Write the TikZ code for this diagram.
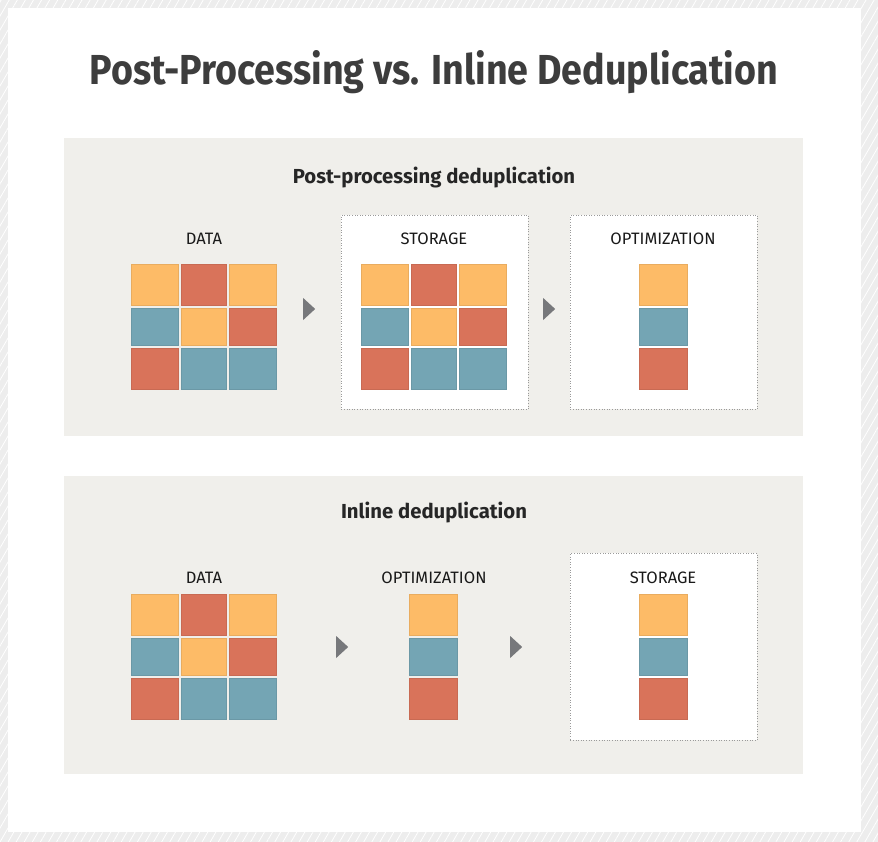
\documentclass[tikz,border=0pt]{standalone}
\usepackage{fontspec}
\setmainfont{Fira Sans}
\usetikzlibrary{shapes.geometric, patterns.meta, positioning}
\definecolor{panelgray}{HTML}{F0EFEB}
\definecolor{hatchgray}{HTML}{EDEDED}
\definecolor{cellorange}{HTML}{FDBB67}
\definecolor{cellred}{HTML}{D9735A}
\definecolor{cellteal}{HTML}{74A5B4}
\definecolor{arrowgray}{HTML}{77787B}
\definecolor{titlegray}{HTML}{3D3D3D}
\definecolor{dotgray}{HTML}{9A9A9A}

% 3x3 block of data: #1 name, #2 left, #3 top
\newcommand{\datagrid}[3]{%
  \foreach \cx/\cw/\cy/\ch/\col [count=\i] in {0/47/0/41/cellorange, 50/45/0/41/cellred, 98/47/0/41/cellorange,
      0/47/44/37/cellteal, 50/45/44/37/cellorange, 98/47/44/37/cellred,
      0/47/84/41/cellred, 50/45/84/41/cellteal, 98/47/84/41/cellteal}
    \node[cell=\col, minimum width=\cw, minimum height=\ch] (#1-\i) at (#2+\cx, #3+\cy) {};
}
% single column after dedup: #1 name, #2 left, #3 top
\newcommand{\dedupcol}[3]{%
  \foreach \cy/\ch/\col [count=\i] in {0/41/cellorange, 44/37/cellteal, 84/41/cellred}
    \node[cell=\col, minimum width=48, minimum height=\ch] (#1-\i) at (#2, #3+\cy) {};
}

\begin{document}
\begin{tikzpicture}[
    x=1pt, y=-1pt,
    panel/.style={fill=panelgray, anchor=north west, inner sep=0pt, minimum width=739, minimum height=298},
    dashbox/.style={draw=dotgray, line width=0.8pt, dash pattern=on 1pt off 1.6pt, fill=white, anchor=north west, inner sep=0pt, minimum width=187},
    cell/.style={fill=#1, draw=#1!92!black, line width=0.5pt, anchor=north west, inner sep=0pt},
    lbl/.style={anchor=base, font=\fontsize{16.5}{18}\selectfont, text=black!90},
    sectitle/.style={anchor=base, font=\bfseries\fontsize{20.3}{23}\selectfont, text=black!85},
    tri/.style={isosceles triangle, isosceles triangle stretches, fill=arrowgray, inner sep=0pt, minimum height=12, minimum width=22}
]
\useasboundingbox (0,0) rectangle (878,842);
% hatched frame
\fill[hatchgray] (0,0) rectangle (878,842);
\fill[pattern={Lines[angle=60, distance=7pt, line width=0.8pt]}, pattern color=white] (0,0) rectangle (878,842);
\fill[white] (8,8) rectangle (861,832);

\node[anchor=base, text=titlegray] (title) at (434,85)
  {\resizebox{688pt}{34pt}{\bfseries Post-Processing vs. Inline Deduplication}};

% post-processing
\node[panel] (post) at (64,138) {};
\node[sectitle] (posttitle) at (434,184) {Post-processing deduplication};
\node[dashbox, minimum height=194] (poststore) at (341,215) {};
\node[dashbox, minimum height=194] (postopt) at (570,215) {};
\node[lbl] (postdatalbl) at (204,245) {DATA};
\node[lbl] (poststorelbl) at (434,245) {STORAGE};
\node[lbl] (postoptlbl) at (663,245) {OPTIMIZATION};
\datagrid{pd}{131}{264}
\datagrid{ps}{361}{264}
\dedupcol{po}{639}{264}
\node[tri] (postarr1) at (308,309) {};
\node[tri] (postarr2) at (548,309) {};

% inline
\node[panel] (inl) at (64,476) {};
\node[sectitle] (inltitle) at (434,518) {Inline deduplication};
\node[dashbox, minimum height=187] (inlstore) at (570,553) {};
\node[lbl] (inldatalbl) at (204,583) {DATA};
\node[lbl] (inloptlbl) at (434,583) {OPTIMIZATION};
\node[lbl] (inlstorelbl) at (663,583) {STORAGE};
\datagrid{id}{131}{594}
\dedupcol{io}{409}{594}
\dedupcol{is}{639}{594}
\node[tri] (inlarr1) at (341,647) {};
\node[tri] (inlarr2) at (515,647) {};
\end{tikzpicture}
\end{document}
